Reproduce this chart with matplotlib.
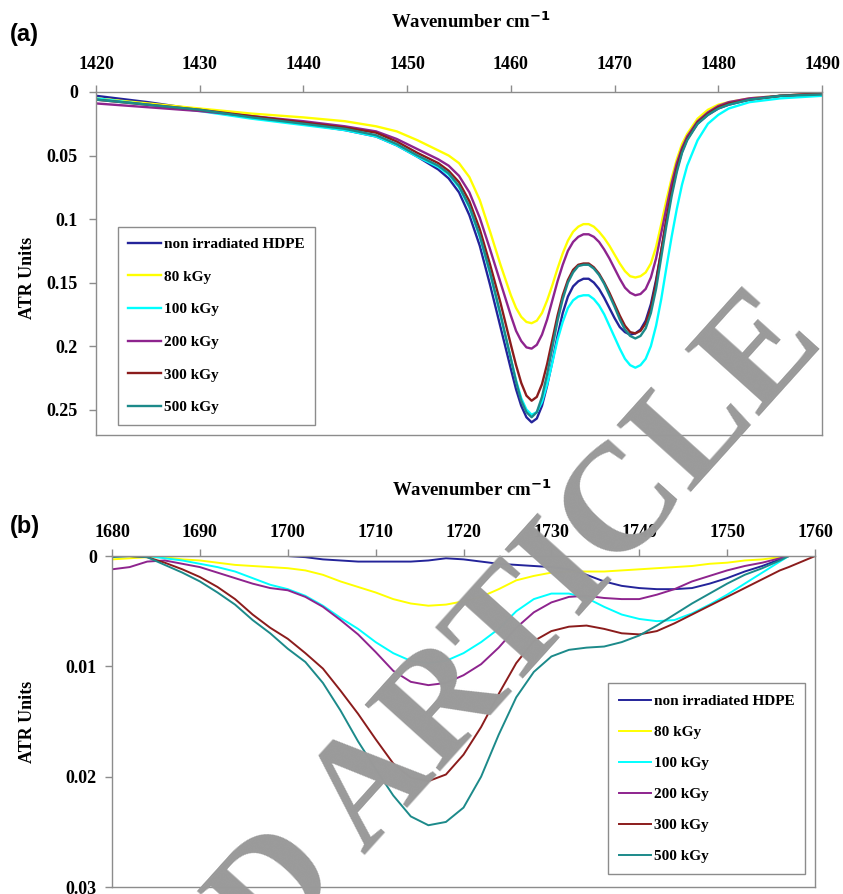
import numpy as np
import matplotlib
matplotlib.use("Agg")
import matplotlib.pyplot as plt

nan = np.nan

# ---- panel (a): 1420-1490 cm-1 ----
wave_a = [1420, 1425, 1430, 1435, 1440, 1444, 1447, 1449, 1451, 1453,
          1454, 1455, 1456, 1457, 1458, 1459, 1460,
          1460.5, 1461, 1461.5, 1462, 1462.5, 1463, 1463.5, 1464, 1464.5, 1465,
          1465.5, 1466, 1466.5, 1467, 1467.5, 1468, 1468.5, 1469, 1469.5, 1470,
          1470.5, 1471, 1471.5, 1472, 1472.5, 1473, 1473.5, 1474, 1474.5, 1475,
          1475.5, 1476, 1476.5, 1477,
          1478, 1479, 1480, 1481, 1483, 1486, 1490]

hdpe_a = [0.003, 0.008, 0.014, 0.020, 0.025, 0.030, 0.035, 0.042, 0.051, 0.061,
          0.068, 0.079, 0.097, 0.121, 0.152, 0.185, 0.218,
          0.234, 0.247, 0.256, 0.260, 0.257, 0.247, 0.231, 0.212, 0.192, 0.174,
          0.161, 0.153, 0.149, 0.147, 0.147, 0.150, 0.155, 0.162, 0.170, 0.178,
          0.185, 0.189, 0.191, 0.190, 0.187, 0.180, 0.167, 0.148, 0.125, 0.101,
          0.079, 0.061, 0.047, 0.037,
          0.025, 0.018, 0.013, 0.010, 0.006, 0.003, 0.002]

kgy80_a = [0.005, 0.009, 0.013, 0.017, 0.020, 0.023, 0.027, 0.031, 0.038, 0.046,
           0.050, 0.056, 0.067, 0.085, 0.110, 0.136, 0.160,
           0.170, 0.177, 0.181, 0.182, 0.180, 0.174, 0.164, 0.152, 0.139, 0.127,
           0.117, 0.110, 0.106, 0.104, 0.104, 0.106, 0.110, 0.115, 0.121, 0.128,
           0.135, 0.141, 0.145, 0.146, 0.145, 0.142, 0.135, 0.122, 0.104, 0.085,
           0.068, 0.053, 0.041, 0.033,
           0.021, 0.014, 0.010, 0.008, 0.005, 0.003, 0.001]

kgy100_a = [0.005, 0.010, 0.015, 0.021, 0.026, 0.030, 0.035, 0.042, 0.051, 0.059,
            0.065, 0.075, 0.091, 0.114, 0.143, 0.176, 0.210,
            0.227, 0.241, 0.250, 0.254, 0.252, 0.244, 0.230, 0.213, 0.195, 0.181,
            0.170, 0.164, 0.161, 0.160, 0.160, 0.163, 0.168, 0.175, 0.184, 0.193,
            0.202, 0.210, 0.215, 0.217, 0.215, 0.210, 0.200, 0.184, 0.163, 0.138,
            0.114, 0.092, 0.073, 0.058,
            0.038, 0.025, 0.018, 0.013, 0.008, 0.005, 0.003]

kgy200_a = [0.009, 0.012, 0.015, 0.019, 0.023, 0.027, 0.031, 0.037, 0.045, 0.053,
            0.058, 0.066, 0.079, 0.099, 0.124, 0.150, 0.176,
            0.188, 0.196, 0.201, 0.202, 0.199, 0.191, 0.179, 0.164, 0.149, 0.136,
            0.125, 0.118, 0.114, 0.112, 0.112, 0.114, 0.118, 0.124, 0.131, 0.139,
            0.147, 0.154, 0.158, 0.160, 0.159, 0.155, 0.146, 0.131, 0.111, 0.091,
            0.072, 0.056, 0.044, 0.035,
            0.023, 0.016, 0.011, 0.008, 0.005, 0.003, 0.001]

kgy300_a = [0.006, 0.010, 0.014, 0.019, 0.024, 0.028, 0.032, 0.039, 0.048, 0.056,
            0.062, 0.071, 0.086, 0.108, 0.136, 0.166, 0.199,
            0.215, 0.229, 0.239, 0.243, 0.240, 0.230, 0.214, 0.195, 0.176, 0.160,
            0.148, 0.140, 0.136, 0.135, 0.135, 0.138, 0.143, 0.150, 0.158, 0.167,
            0.176, 0.184, 0.189, 0.190, 0.188, 0.182, 0.170, 0.150, 0.125, 0.100,
            0.078, 0.060, 0.046, 0.037,
            0.024, 0.017, 0.012, 0.009, 0.006, 0.003, 0.001]

kgy500_a = [0.006, 0.010, 0.014, 0.020, 0.025, 0.029, 0.034, 0.041, 0.050, 0.058,
            0.064, 0.074, 0.090, 0.113, 0.142, 0.175, 0.210,
            0.228, 0.243, 0.252, 0.256, 0.252, 0.240, 0.222, 0.201, 0.180, 0.163,
            0.150, 0.142, 0.137, 0.136, 0.136, 0.139, 0.144, 0.151, 0.160, 0.169,
            0.179, 0.187, 0.192, 0.194, 0.192, 0.186, 0.174, 0.155, 0.130, 0.105,
            0.082, 0.063, 0.048, 0.038,
            0.025, 0.018, 0.013, 0.010, 0.006, 0.003, 0.002]

# ---- panel (b): 1680-1760 cm-1 ----
wave_b = [1680, 1682, 1684, 1686, 1688, 1690, 1692, 1694, 1696, 1698,
          1700, 1702, 1704, 1706, 1708, 1710, 1712, 1714, 1716, 1718,
          1720, 1722, 1724, 1726, 1728, 1730, 1732, 1734, 1736, 1738,
          1740, 1742, 1744, 1746, 1748, 1750, 1752, 1754, 1756,
          1757, 1758.5, 1760]

hdpe_b = [0.0000, 0.0000, 0.0000, 0.0000, 0.0000, 0.0000, 0.0000, 0.0000, 0.0000, 0.0000,
          0.0000, 0.0001, 0.0003, 0.0004, 0.0005, 0.0005, 0.0005, 0.0005, 0.0004, 0.0002,
          0.0003, 0.0005, 0.0007, 0.0008, 0.0009, 0.0010, 0.0012, 0.0017, 0.0023, 0.0027,
          0.0029, 0.0030, 0.0030, 0.0029, 0.0025, 0.0020, 0.0014, 0.0009, 0.0003,
          0.0000, nan, nan]

kgy80_b = [0.0003, 0.0002, 0.0001, 0.0001, 0.0003, 0.0004, 0.0006, 0.0008, 0.0009, 0.0010,
           0.0011, 0.0013, 0.0017, 0.0023, 0.0028, 0.0033, 0.0039, 0.0043, 0.0045, 0.0044,
           0.0041, 0.0037, 0.0030, 0.0022, 0.0018, 0.0015, 0.0014, 0.0014, 0.0014, 0.0013,
           0.0012, 0.0011, 0.0010, 0.0009, 0.0007, 0.0006, 0.0004, 0.0003, 0.0001,
           0.0000, nan, nan]

kgy100_b = [0.0000, 0.0000, 0.0000, 0.0002, 0.0004, 0.0007, 0.0010, 0.0014, 0.0020, 0.0026,
            0.0030, 0.0036, 0.0045, 0.0056, 0.0066, 0.0078, 0.0088, 0.0095, 0.0097, 0.0095,
            0.0088, 0.0078, 0.0066, 0.0050, 0.0039, 0.0034, 0.0034, 0.0038, 0.0046, 0.0053,
            0.0057, 0.0059, 0.0058, 0.0052, 0.0044, 0.0035, 0.0025, 0.0015, 0.0005,
            0.0000, nan, nan]

kgy200_b = [0.0012, 0.0010, 0.0005, 0.0004, 0.0007, 0.0010, 0.0015, 0.0020, 0.0025, 0.0029,
            0.0031, 0.0037, 0.0046, 0.0058, 0.0071, 0.0087, 0.0104, 0.0114, 0.0117, 0.0115,
            0.0108, 0.0098, 0.0083, 0.0065, 0.0051, 0.0042, 0.0037, 0.0036, 0.0038, 0.0039,
            0.0039, 0.0035, 0.0030, 0.0023, 0.0018, 0.0013, 0.0009, 0.0006, 0.0002,
            0.0000, nan, nan]

kgy300_b = [0.0000, 0.0000, 0.0001, 0.0006, 0.0012, 0.0019, 0.0028, 0.0039, 0.0053, 0.0065,
            0.0075, 0.0088, 0.0102, 0.0122, 0.0143, 0.0166, 0.0188, 0.0201, 0.0204, 0.0198,
            0.0180, 0.0155, 0.0125, 0.0097, 0.0077, 0.0068, 0.0064, 0.0063, 0.0066, 0.0070,
            0.0071, 0.0068, 0.0061, 0.0053, 0.0045, 0.0037, 0.0029, 0.0021, 0.0013,
            0.0010, 0.0005, 0.0000]

kgy500_b = [0.0001, 0.0000, 0.0001, 0.0008, 0.0015, 0.0023, 0.0033, 0.0044, 0.0058, 0.0070,
            0.0084, 0.0096, 0.0115, 0.0140, 0.0168, 0.0193, 0.0217, 0.0236, 0.0244, 0.0241,
            0.0228, 0.0200, 0.0162, 0.0128, 0.0105, 0.0091, 0.0085, 0.0083, 0.0082, 0.0078,
            0.0072, 0.0063, 0.0053, 0.0043, 0.0034, 0.0025, 0.0017, 0.0011, 0.0004,
            0.0000, nan, nan]

labels = ["non irradiated HDPE", "80 kGy", "100 kGy", "200 kGy", "300 kGy", "500 kGy"]
colors = ["#24249a", "#ffff00", "#00ffff", "#8e248e", "#8b1c1c", "#1c8a8a"]

xticks_a = [1420, 1430, 1440, 1450, 1460, 1470, 1480, 1490]
yticks_a = [0, 0.05, 0.1, 0.15, 0.2, 0.25]
ytick_labels_a = ["0", "0.05", "0.1", "0.15", "0.2", "0.25"]
xticks_b = [1680, 1690, 1700, 1710, 1720, 1730, 1740, 1750, 1760]
yticks_b = [0, 0.01, 0.02, 0.03]
ytick_labels_b = ["0", "0.01", "0.02", "0.03"]

plt.rcParams["font.family"] = "Liberation Serif"
plt.rcParams["font.weight"] = "bold"
plt.rcParams["mathtext.default"] = "regular"

GREY = "#8c8c8c"


def style_axes(ax, xlim, ylim, xticks, yticks, ylabels, xpad, ypad):
    ax.set_xlim(*xlim)
    ax.set_ylim(*ylim)
    ax.xaxis.tick_top()
    ax.set_xticks(xticks)
    ax.set_yticks(yticks)
    ax.set_yticklabels(ylabels)
    for s in ax.spines.values():
        s.set_color(GREY)
        s.set_linewidth(1.0)
    ax.tick_params(axis="both", color=GREY, length=5, width=1,
                   direction="out", labelsize=13)
    ax.tick_params(axis="x", pad=xpad)
    ax.tick_params(axis="y", pad=ypad)


def add_legend(ax, loc, anchor, spacing):
    leg = ax.legend(loc=loc, bbox_to_anchor=anchor, borderaxespad=0,
                    fancybox=False, framealpha=1, edgecolor=GREY,
                    prop={"family": "Liberation Serif", "weight": "bold", "size": 11},
                    handlelength=2.1, handletextpad=0.2, labelspacing=spacing,
                    borderpad=0.7)
    leg.get_frame().set_linewidth(1.0)
    return leg


fig = plt.figure(figsize=(8.43, 8.94), dpi=100)

ax_a = fig.add_axes([0.1139, 0.5134, 0.8612, 0.3837])
for ys, c, lab in zip([hdpe_a, kgy80_a, kgy100_a, kgy200_a, kgy300_a, kgy500_a], colors, labels):
    ax_a.plot(wave_a, ys, color=c, lw=1.7, label=lab)
style_axes(ax_a, (1420, 1490), (0.27, 0), xticks_a, yticks_a, ytick_labels_a, 8.5, 8)
add_legend(ax_a, "lower left", (0.030, 0.029), 1.24)

ax_b = fig.add_axes([0.1329, 0.0078, 0.8339, 0.3702])
for ys, c, lab in zip([hdpe_b, kgy80_b, kgy100_b, kgy200_b, kgy300_b, kgy500_b], colors, labels):
    ax_b.plot(wave_b, ys, color=c, lw=1.4, label=lab)
style_axes(ax_b, (1680, 1760), (0.03, 0), xticks_b, yticks_b, ytick_labels_b, 5.5, 6)
add_legend(ax_b, "lower right", (0.986, 0.039), 1.14)

# titles / axis labels
fig.text(471 / 843, 1 - 22 / 894, r"Wavenumber cm$^{\mathbf{-1}}$", ha="center", va="center",
         fontsize=13.5, fontweight="bold")
fig.text(472 / 843, 1 - 490 / 894, r"Wavenumber cm$^{\mathbf{-1}}$", ha="center", va="center",
         fontsize=13.5, fontweight="bold")
fig.text(27 / 843, 1 - 278 / 894, "ATR Units", rotation=90, ha="center", va="center",
         fontsize=13, fontweight="bold")
fig.text(27 / 843, 1 - 722 / 894, "ATR Units", rotation=90, ha="center", va="center",
         fontsize=13, fontweight="bold")
fig.text(10 / 843, 1 - 35 / 894, "(a)", ha="left", va="center", fontsize=17,
         fontweight="bold", family="Liberation Sans")
fig.text(10 / 843, 1 - 527 / 894, "(b)", ha="left", va="center", fontsize=17,
         fontweight="bold", family="Liberation Sans")

# retraction watermark over the figure
fig.text(826 / 843, 1 - 342 / 894, "RETRACTED ARTICLE", ha="right", va="baseline",
         rotation=48, rotation_mode="anchor", fontsize=110, fontweight="bold",
         family="Liberation Serif", color="#9a9a9a", zorder=10)

fig.savefig("out.png", dpi=100)
